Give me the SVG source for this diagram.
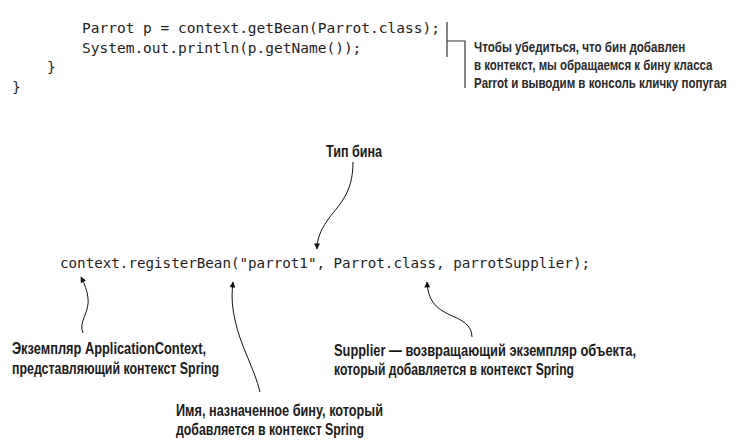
<svg xmlns="http://www.w3.org/2000/svg" width="744" height="448" viewBox="0 0 744 448">
  <defs>
    <style>
      .code { font-family: "DejaVu Sans Mono", "Liberation Mono", monospace; font-size: 14.5px; fill: #1e1e1e; }
      .lbl { font-family: "Liberation Sans Narrow", "Liberation Sans", Arial, sans-serif; font-weight: bold; font-size: 16px; fill: #1a1a1a; }
      .note { font-family: "Liberation Sans Narrow", "Liberation Sans", Arial, sans-serif; font-weight: bold; font-size: 14px; fill: #2a2a2a; }
      .bracket { fill: none; stroke: #333; stroke-width: 1.2; }
      .arr { fill: none; stroke: #111; stroke-width: 1; marker-end: url(#ah); }
    </style>
    <marker id="ah" viewBox="0 0 10 10" refX="9" refY="5" markerWidth="7" markerHeight="6" markerUnits="userSpaceOnUse" orient="auto">
      <path d="M0,0 L10,5 L0,10 Z" fill="#111"/>
    </marker>
  </defs>
  <rect width="744" height="448" fill="#ffffff"/>

  <g id="code-top">
    <text class="code" x="82" y="33">Parrot p = context.getBean(Parrot.class);</text>
    <text class="code" x="82" y="53">System.out.println(p.getName());</text>
    <text class="code" x="47" y="72">}</text>
    <text class="code" x="12" y="92">}</text>
  </g>

  <g id="note">
    <path class="bracket" d="M447,22 V57 M447,41 H465 V88"/>
    <g transform="translate(474,0) scale(0.8,1)">
      <text class="note" x="0" y="52" textLength="264" lengthAdjust="spacingAndGlyphs">Чтобы убедиться, что бин добавлен</text>
      <text class="note" x="0" y="70" textLength="298" lengthAdjust="spacingAndGlyphs">в контекст, мы обращаемся к бину класса</text>
      <text class="note" x="0" y="88" textLength="316" lengthAdjust="spacingAndGlyphs">Parrot и выводим в консоль кличку попугая</text>
    </g>
  </g>

  <g id="code-register">
    <text class="code" x="60" y="268" style="font-size:14.2px" textLength="530" lengthAdjust="spacingAndGlyphs">context.registerBean("parrot1", Parrot.class, parrotSupplier);</text>
  </g>

  <g id="label-type">
    <text class="lbl" x="326" y="157" textLength="56" lengthAdjust="spacingAndGlyphs">Тип бина</text>
  </g>

  <g id="label-context">
    <text class="lbl" x="12" y="354" textLength="194" lengthAdjust="spacingAndGlyphs">Экземпляр ApplicationContext,</text>
    <text class="lbl" x="12" y="374" textLength="207" lengthAdjust="spacingAndGlyphs">представляющий контекст Spring</text>
  </g>

  <g id="label-supplier">
    <text class="lbl" x="334" y="356" textLength="302" lengthAdjust="spacingAndGlyphs">Supplier — возвращающий экземпляр объекта,</text>
    <text class="lbl" x="334" y="375" textLength="240" lengthAdjust="spacingAndGlyphs">который добавляется в контекст Spring</text>
  </g>

  <g id="label-name">
    <text class="lbl" x="176" y="416" textLength="207" lengthAdjust="spacingAndGlyphs">Имя, назначенное бину, который</text>
    <text class="lbl" x="176" y="435" textLength="188" lengthAdjust="spacingAndGlyphs">добавляется в контекст Spring</text>
  </g>

  <g id="connectors">
    <path class="arr" d="M353,162 C353,195 338,205 327,221 C320,231 317,240 317,249"/>
    <path class="arr" d="M83,333 C78,322 90,312 88,298 C87,290 85,285 81,277"/>
    <path class="arr" d="M260,392 C255,370 240,345 235,320 C231,302 232,292 233,282"/>
    <path class="arr" d="M472,337 C472,325 462,320 450,315 C435,308 428,300 427,282"/>
  </g>
</svg>
